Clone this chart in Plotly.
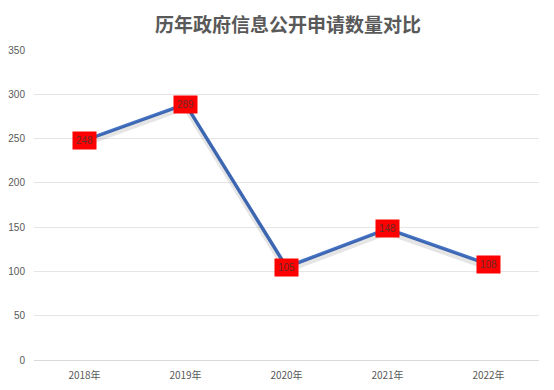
import plotly.graph_objects as go

categories = ["2018年", "2019年", "2020年", "2021年", "2022年"]
values = [248, 289, 105, 148, 108]
title_text = "历年政府信息公开申请数量对比"

fig = go.Figure()
# soft shadow (drawn on a slightly shifted overlay axis)
fig.add_trace(go.Scatter(x=categories, y=values, mode="lines", yaxis="y2",
                         line=dict(color="rgba(0,0,0,0.10)", width=6),
                         hoverinfo="skip", showlegend=False))
fig.add_trace(go.Scatter(x=categories, y=values, mode="lines",
                         line=dict(color="#4472C4", width=3.5),
                         showlegend=False))

for c, v in zip(categories, values):
    fig.add_annotation(x=c, y=v, text=str(v), showarrow=False,
                       bgcolor="#FF0000", borderpad=3,
                       font=dict(family="Liberation Sans, Arial", size=10, color="#6A2A2A"))

fig.update_layout(
    width=554, height=390,
    margin=dict(l=34, r=15, t=50, b=30, autoexpand=False),
    paper_bgcolor="white", plot_bgcolor="white",
    title=dict(text="<b>" + title_text + "</b>", x=0.52, xanchor="center", y=0.935, yanchor="middle",
               font=dict(family="Noto Sans CJK SC", size=19, color="#595959")),
    xaxis=dict(showgrid=False, showline=True, linecolor="#D9D9D9", linewidth=1,
               ticks="", ticklabelstandoff=6, automargin=False,
               tickfont=dict(family="Noto Sans CJK SC", size=10, color="#595959"),
               range=[-0.5, 4.5]),
    yaxis=dict(range=[0, 350], dtick=50, showgrid=True, gridcolor="#E5E5E5", zeroline=False,
               ticks="", ticklabelstandoff=8, automargin=False,
               tickfont=dict(family="Liberation Sans, Arial", size=10, color="#595959")),
    yaxis2=dict(range=[3.4, 353.4], overlaying="y", visible=False),
)
fig.write_html("out.html")
